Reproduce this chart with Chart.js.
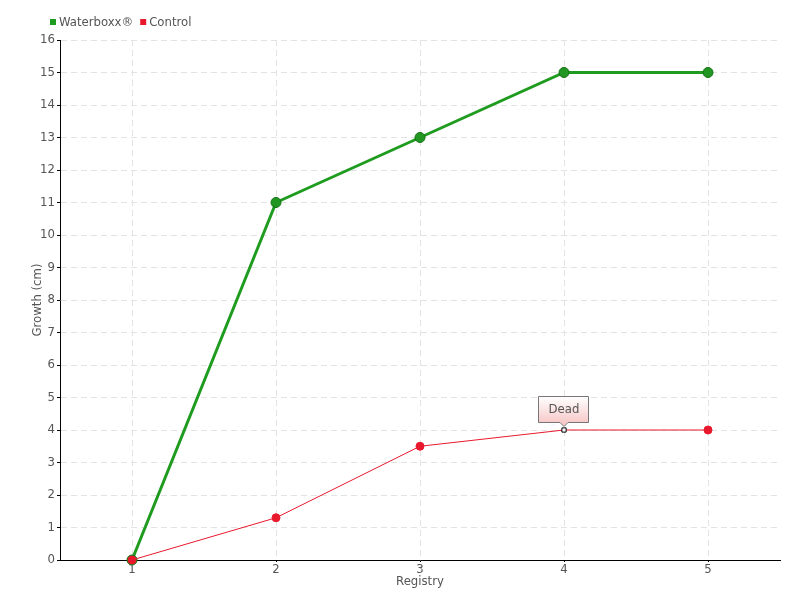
<!DOCTYPE html>
<html>
<head>
<meta charset="utf-8">
<script src="https://cdn.jsdelivr.net/npm/chart.js@4"></script>
<style>
  html, body { margin: 0; padding: 0; background: #fff; }
  #wrap { width: 800px; height: 600px; }
</style>
</head>
<body>
<div id="wrap"><canvas id="myChart" width="800" height="600"></canvas></div>
<script>
const registry = ["1", "2", "3", "4", "5"];
const waterboxx = [0, 11, 13, 15, 15];
const control = [0, 1.3, 3.5, 4, 4];
const seriesNames = ["Waterboxx®", "Control"];
const deadIndex = 3;
const deadLabel = "Dead";

const FONT = "'DejaVu Sans Condensed', 'Liberation Sans Narrow', sans-serif";
const TEXT = "#555";
const GREEN = "#1f9c1f";
const RED = "#e8192c";

// legend drawn by hand so it can sit at the top-left corner
const cornerLegend = {
  id: "cornerLegend",
  afterDraw(chart) {
    const ctx = chart.ctx;
    ctx.save();
    ctx.font = "13px " + FONT;
    ctx.textBaseline = "middle";
    let x = 50;
    const y = 22;
    chart.data.datasets.forEach((ds) => {
      ctx.fillStyle = ds.borderColor;
      ctx.fillRect(x, y - 3, 6, 6);
      x += 9;
      ctx.fillStyle = TEXT;
      ctx.fillText(ds.label, x, y + 1);
      x += ctx.measureText(ds.label).width + 7;
    });
    ctx.restore();
  },
};

// callout box over the dead point
const deadCallout = {
  id: "deadCallout",
  afterDatasetsDraw(chart) {
    const ctx = chart.ctx;
    const px = chart.scales.x.getPixelForValue(deadIndex);
    const py = chart.scales.y.getPixelForValue(control[deadIndex]);
    const w = 50, h = 26;
    const left = px - w / 2 - 0.5;
    const top = py - 33.5;
    ctx.save();
    const g = ctx.createLinearGradient(0, top, 0, top + h);
    g.addColorStop(0, "#ffffff");
    g.addColorStop(1, "#f7c9c9");
    ctx.beginPath();
    ctx.moveTo(left, top);
    ctx.lineTo(left + w, top);
    ctx.lineTo(left + w, top + h);
    ctx.lineTo(px + 4, top + h);
    ctx.lineTo(px, top + h + 4);
    ctx.lineTo(px - 4, top + h);
    ctx.lineTo(left, top + h);
    ctx.closePath();
    ctx.fillStyle = g;
    ctx.fill();
    ctx.strokeStyle = "#777";
    ctx.lineWidth = 1;
    ctx.stroke();
    ctx.fillStyle = TEXT;
    ctx.font = "13px " + FONT;
    ctx.textAlign = "center";
    ctx.textBaseline = "middle";
    ctx.fillText(deadLabel, px, top + h / 2 + 0.5);
    ctx.restore();
  },
};

const controlPointStyle = control.map((v, i) => (i === deadIndex ? "rect" : "circle"));
const controlPointBg = control.map((v, i) => (i === deadIndex ? "#fff" : RED));
const controlPointBorder = control.map((v, i) => (i === deadIndex ? "#000" : RED));
const controlPointRadius = control.map((v, i) => (i === deadIndex ? 3 : 4));

new Chart(document.getElementById("myChart"), {
  type: "line",
  data: {
    labels: registry,
    datasets: [
      {
        label: seriesNames[0],
        data: waterboxx,
        order: 1,
        borderColor: GREEN,
        backgroundColor: GREEN,
        borderWidth: 3,
        pointRadius: 5,
        pointBackgroundColor: "#229622",
        pointBorderColor: "#157015",
        pointBorderWidth: 1,
        tension: 0,
      },
      {
        label: seriesNames[1],
        data: control,
        order: 0,
        borderColor: RED,
        backgroundColor: RED,
        borderWidth: 1,
        pointStyle: controlPointStyle,
        pointRadius: controlPointRadius,
        pointBackgroundColor: controlPointBg,
        pointBorderColor: controlPointBorder,
        pointBorderWidth: 1,
        tension: 0,
      },
    ],
  },
  options: {
    responsive: false,
    animation: false,
    clip: false,
    layout: { padding: { left: 0, right: 20, top: 40, bottom: 0 } },
    plugins: {
      legend: { display: false },
      tooltip: { enabled: false },
    },
    scales: {
      x: {
        offset: true,
        grid: {
          offset: false,
          color: "#e3e3e3",
          tickLength: 2,
          tickColor: "#000",
        },
        border: { color: "#000", width: 1, dash: [6, 4] },
        ticks: { color: TEXT, font: { family: FONT, size: 13 }, padding: 0 },
        title: {
          display: true,
          text: "Registry",
          color: TEXT,
          font: { family: FONT, size: 13 },
          padding: { top: 0, bottom: 11 },
        },
        afterFit(scale) {
          scale.height = 40;
        },
      },
      y: {
        min: 0,
        max: 16,
        ticks: {
          stepSize: 1,
          color: TEXT,
          font: { family: FONT, size: 13 },
          padding: 2,
        },
        grid: {
          color: "#e3e3e3",
          tickLength: 3,
          tickColor: "#000",
        },
        border: { color: "#000", width: 1, dash: [6, 4] },
        title: {
          display: true,
          text: "Growth (cm)",
          color: TEXT,
          font: { family: FONT, size: 13 },
          padding: { top: 30, bottom: 0 },
        },
        afterFit(scale) {
          scale.width = 60;
        },
      },
    },
  },
  plugins: [cornerLegend, deadCallout],
});
</script>
</body>
</html>
